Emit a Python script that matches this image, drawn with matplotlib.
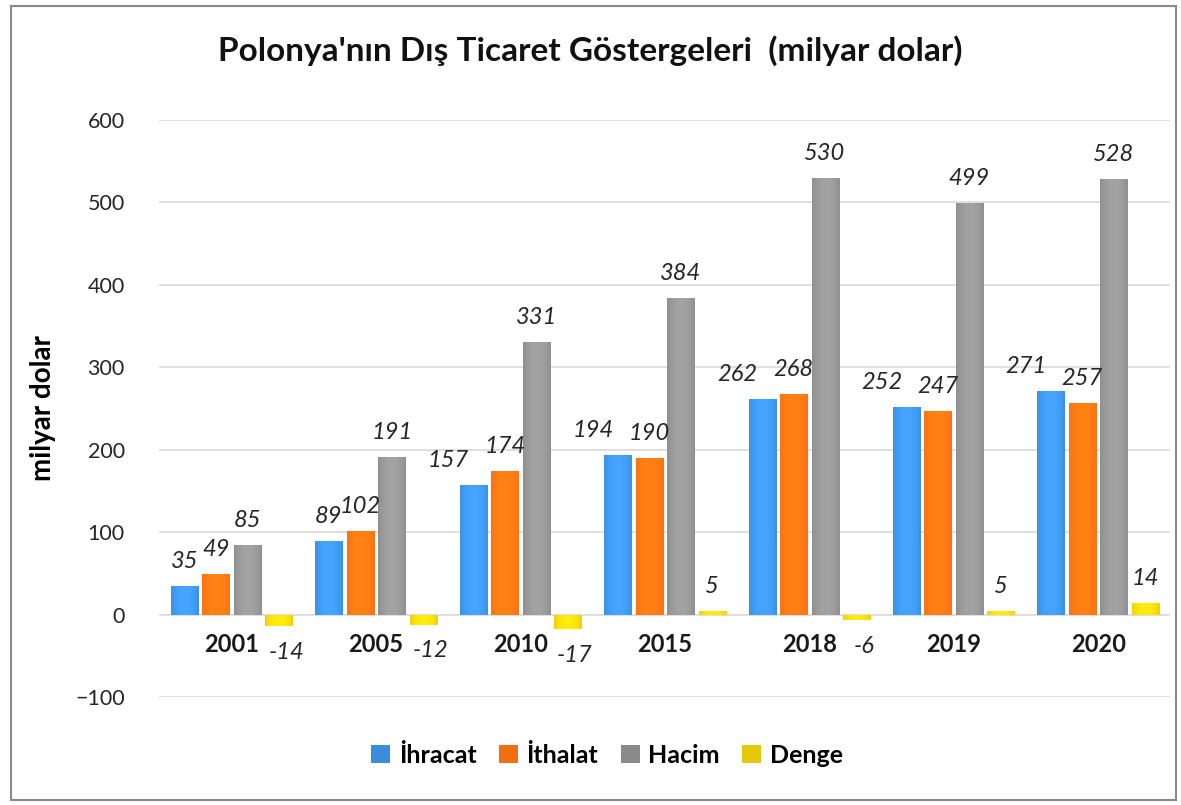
import numpy as np
import matplotlib
matplotlib.use("Agg")
import matplotlib.pyplot as plt
from matplotlib.patches import Rectangle
from matplotlib.colors import to_rgb

years = ["2001", "2005", "2010", "2015", "2018", "2019", "2020"]
ihracat = [35, 89, 157, 194, 262, 252, 271]
ithalat = [49, 102, 174, 190, 268, 247, 257]
hacim = [85, 191, 331, 384, 530, 499, 528]
denge = [-14, -12, -17, 5, -6, 5, 14]

series = [("İhracat", ihracat, "#3a8cdc"),
          ("İthalat", ithalat, "#f26e12"),
          ("Hacim", hacim, "#8a8a8a"),
          ("Denge", denge, "#e3c90a")]

plt.rcParams["font.family"] = ["Lato", "DejaVu Sans"]

fig = plt.figure(figsize=(11.81, 8.05), dpi=100)
fig.patches.append(Rectangle((0.009, 0.006), 0.987, 0.986, transform=fig.transFigure,
                             fill=False, edgecolor="#8a8a8a", linewidth=1.5))
ax = fig.add_axes([0.135, 0.134, 0.856, 0.717])

x = np.arange(len(years))
step = 0.218
width = 0.187


def shade(bar, color):
    # horizontal gradient to imitate the bevelled excel bars
    c = np.array(to_rgb(color))
    t = np.linspace(0, 1, 32)
    f = 1 - 0.35 * (2 * t - 1) ** 2
    light = np.clip(c * (0.78 + 0.4 * f[:, None]), 0, 1)
    img = light[None, :, :]
    bx, by = bar.get_x(), bar.get_y()
    w, h = bar.get_width(), bar.get_height()
    im = ax.imshow(img, extent=[bx, bx + w, by, by + h], aspect="auto",
                   zorder=2, interpolation="bilinear")
    im.set_clip_path(bar)


for i, (name, vals, color) in enumerate(series):
    pos = x + (i - 1.5) * step
    bars = ax.bar(pos, vals, width, color=color, label=name, zorder=2,
                  edgecolor="none")
    for b in bars:
        shade(b, color)
    for p, v in zip(pos, vals):
        if v >= 0:
            # wide blue labels are nudged left so they clear the orange ones
            dx = -0.17 if (i == 0 and v >= 100) else 0.0
            ax.text(p + dx, v + 17, str(v), ha="center", va="bottom",
                    fontsize=17, style="italic", color="#262626")
        else:
            ax.text(p + 0.05, v - 32, str(v), ha="center", va="center", fontsize=17,
                    style="italic", color="#262626")

for xi, yr in zip(x, years):
    ax.text(xi, -36, yr, ha="center", va="center", fontsize=17,
            fontweight="bold", color="#1a1a1a")

ax.set_xlim(-0.5, len(years) - 0.5)
ax.set_ylim(-100, 600)
ax.set_yticks(range(-100, 601, 100))
ax.set_xticks([])
ax.grid(axis="y", color="#d9d9d9", linewidth=1.2)
ax.set_axisbelow(True)
for s in ax.spines.values():
    s.set_visible(False)
ax.tick_params(axis="y", length=0, pad=25, labelsize=15.5, labelcolor="#262626")

ax.set_ylabel("milyar dolar", fontsize=20, fontweight="bold", labelpad=14)
fig.text(0.5, 0.937, "Polonya'nın Dış Ticaret Göstergeleri  (milyar dolar)",
         ha="center", va="center", fontsize=24, fontweight="bold", color="#111111")

leg = fig.legend(loc="center", bbox_to_anchor=(0.514, 0.062), ncol=4, frameon=False,
                 handlelength=0.75, handleheight=0.75, handletextpad=0.35,
                 columnspacing=0.9, prop={"size": 18, "weight": "bold"})

fig.savefig("out.png", dpi=100)
